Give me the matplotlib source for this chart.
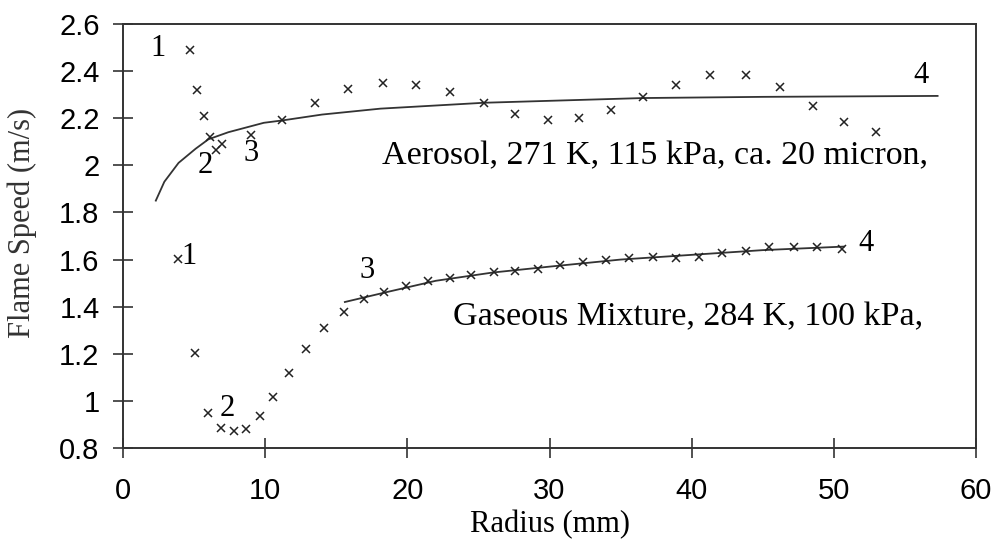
import matplotlib
matplotlib.use('Agg')
import matplotlib.pyplot as plt

# aerosol, 271 K, 115 kPa, ca. 20 micron
aer_r = [4.7, 5.2, 5.7, 6.1, 6.5, 6.95, 9.0, 11.2, 13.5, 15.85, 18.25, 20.6, 23.0,
         25.4, 27.6, 29.9, 32.1, 34.3, 36.6, 38.9, 41.3, 43.8, 46.2, 48.5, 50.7, 53.0]
aer_v = [2.49, 2.32, 2.21, 2.12, 2.065, 2.09, 2.13, 2.19, 2.265, 2.325, 2.35, 2.34, 2.31,
         2.263, 2.217, 2.193, 2.20, 2.235, 2.289, 2.34, 2.382, 2.382, 2.33, 2.253, 2.183, 2.139]
aer_fit_r = [2.3, 2.9, 3.9, 5.1, 6.0, 7.4, 9.9, 11.2, 14.0, 18.1, 25.4, 36.6, 45.0, 57.3]
aer_fit_v = [1.85, 1.93, 2.01, 2.07, 2.11, 2.14, 2.18, 2.19, 2.215, 2.24, 2.265, 2.285, 2.29, 2.294]

# gaseous mixture, 284 K, 100 kPa
gas_r = [3.85, 5.07, 5.96, 6.9, 7.77, 8.66, 9.6, 10.54, 11.64, 12.86, 14.15, 15.56, 16.97,
         18.38, 19.93, 21.46, 22.98, 24.5, 26.08, 27.6, 29.2, 30.77, 32.35, 34.0, 35.6,
         37.3, 38.87, 40.5, 42.1, 43.8, 45.44, 47.2, 48.8, 50.56]
gas_v = [1.603, 1.202, 0.95, 0.887, 0.874, 0.88, 0.936, 1.018, 1.117, 1.22, 1.308, 1.376, 1.431,
         1.464, 1.489, 1.51, 1.523, 1.535, 1.546, 1.552, 1.56, 1.576, 1.59, 1.598, 1.605,
         1.612, 1.608, 1.612, 1.627, 1.638, 1.655, 1.655, 1.652, 1.644]
gas_fit_r = [15.6, 18.4, 22.0, 26.0, 30.0, 35.0, 40.0, 45.0, 50.7]
gas_fit_v = [1.42, 1.46, 1.51, 1.545, 1.57, 1.60, 1.62, 1.64, 1.655]

xticks = [0, 10, 20, 30, 40, 50, 60]
yticks = [0.8, 1.0, 1.2, 1.4, 1.6, 1.8, 2.0, 2.2, 2.4, 2.6]
ylabels = ['0.8', '1', '1.2', '1.4', '1.6', '1.8', '2', '2.2', '2.4', '2.6']

serif = 'Liberation Serif'
sans = 'Liberation Sans'
ink = '#222222'

fig = plt.figure(figsize=(10.01, 5.4), dpi=100)
ax = fig.add_axes([0.123, 0.170, 0.852, 0.786])

ax.plot(aer_fit_r, aer_fit_v, color='#333333', lw=1.3)
ax.plot(gas_fit_r, gas_fit_v, color='#333333', lw=1.3)
ax.plot(aer_r, aer_v, 'x', color=ink, ms=5.5, mew=1.1)
ax.plot(gas_r, gas_v, 'x', color=ink, ms=5.5, mew=1.1)

ax.set_xlim(0, 60)
ax.set_ylim(0.8, 2.6)
ax.set_xticks(xticks)
ax.set_yticks(yticks)
ax.set_yticklabels(ylabels)
ax.tick_params(direction='inout', length=14, width=1.2, color='#333333',
               labelsize=21)
ax.tick_params(axis='y', pad=10)
ax.tick_params(axis='x', pad=14)
for lab in ax.get_xticklabels() + ax.get_yticklabels():
    lab.set_fontfamily(sans)
for s in ax.spines.values():
    s.set_linewidth(1.4)
    s.set_color('#333333')

ax.set_xlabel('Radius (mm)', fontfamily=serif, fontsize=22)
ax.set_ylabel('Flame Speed (m/s)', fontfamily=serif, fontsize=22, color='#333333')
ax.xaxis.set_label_coords(0.5, -0.145)
ax.yaxis.set_label_coords(-0.101, 0.53)

num = dict(fontfamily=serif, fontsize=22, color='black', ha='center', va='center')
big = dict(fontfamily=serif, fontsize=24.5, color='black', ha='left', va='center')
ax.text(2.46, 2.495, '1', **num)
ax.text(5.77, 2.0, '2', **num)
ax.text(9.0, 2.05, '3', **num)
ax.text(56.1, 2.38, '4', **num)
ax.text(18.2, 2.04, 'Aerosol, 271 K, 115 kPa, ca. 20 micron,', **big)

ax.text(4.65, 1.615, '1', **num)
ax.text(7.3, 0.97, '2', **num)
ax.text(17.16, 1.555, '3', **num)
ax.text(52.25, 1.67, '4', **num)
ax.text(23.2, 1.355, 'Gaseous Mixture, 284 K, 100 kPa,', **big)

fig.savefig('out.png', dpi=100)
